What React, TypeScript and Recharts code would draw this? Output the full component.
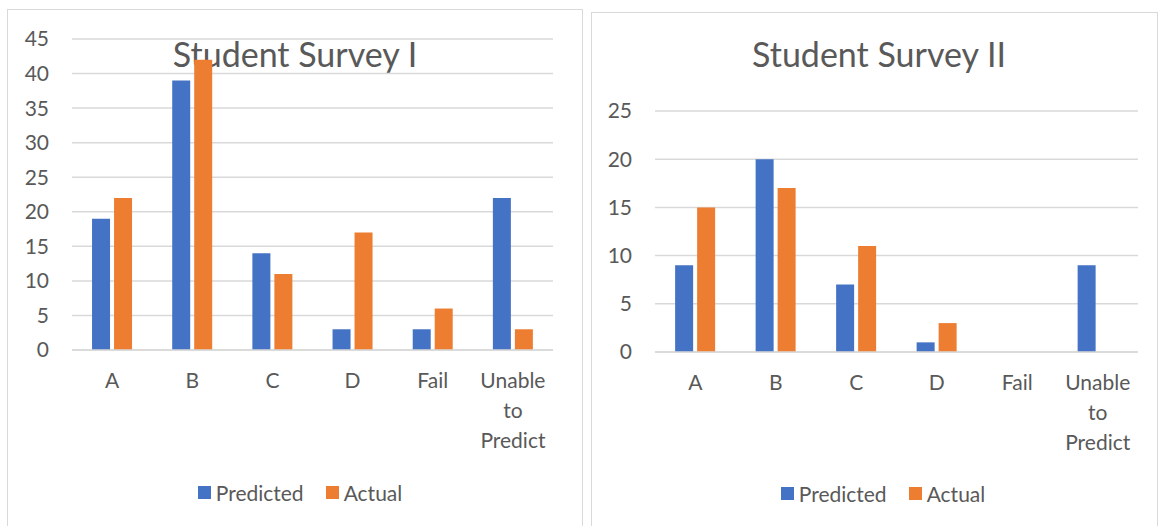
import React from 'react';
import {
    Bar,
    BarChart,
    CartesianGrid,
    Legend,
    XAxis,
    YAxis,
} from 'recharts';

// categories shared by both surveys
const grades = ['A', 'B', 'C', 'D', 'Fail', 'Unable to Predict'];

// Student Survey I
const survey1Predicted = [19, 39, 14, 3, 3, 22];
const survey1Actual = [22, 42, 11, 17, 6, 3];
const survey1Ticks = [0, 5, 10, 15, 20, 25, 30, 35, 40, 45];

// Student Survey II
const survey2Predicted = [9, 20, 7, 1, 0, 9];
const survey2Actual = [15, 17, 11, 3, 0, 0];
const survey2Ticks = [0, 5, 10, 15, 20, 25];

const BLUE = '#4472C4';
const ORANGE = '#ED7D31';
const TEXT = '#595959';
const GRID = '#D9D9D9';
const FONT = 'Lato, "Open Sans", sans-serif';

const buildRows = (predicted: number[], actual: number[]) =>
    grades.map((grade, i) => ({ grade, predicted: predicted[i], actual: actual[i] }));

const CategoryTick = (props: any) => {
    const { x, y, payload } = props;
    const lines = String(payload.value).split(' ');
    return (
        <text x={x} y={y} textAnchor="middle" fill={TEXT} fontSize={21} fontFamily={FONT}>
            {lines.map((line, i) => (
                <tspan key={i} x={x} y={y + 38 + i * 30}>
                    {line}
                </tspan>
            ))}
        </text>
    );
};

const LegendBox = ({ shift }: { shift: number }) => (
    <div
        style={{
            display: 'flex',
            justifyContent: 'center',
            alignItems: 'center',
            height: 40,
            paddingLeft: shift,
            fontFamily: FONT,
            fontSize: 21,
            color: TEXT,
        }}
    >
        <span style={{ width: 13, height: 13, background: BLUE, marginRight: 5 }} />
        <span style={{ marginRight: 22 }}>Predicted</span>
        <span style={{ width: 13, height: 13, background: ORANGE, marginRight: 5 }} />
        <span>Actual</span>
    </div>
);

interface SurveyChartProps {
    title: string;
    data: any[];
    ticks: number[];
    left: number;
    top: number;
    width: number;
    height: number;
    margin: { top: number; right: number; bottom: number; left: number };
    yWidth: number;
    xHeight: number;
    titleTop: number;
    titleCenter: number;
    legendShift: number;
}

function SurveyChart(p: SurveyChartProps) {
    return (
        <>
            <div
                style={{
                    position: 'absolute',
                    left: p.left,
                    top: p.top,
                    width: p.width,
                    height: 560,
                    border: `1px solid ${GRID}`,
                    boxSizing: 'border-box',
                }}
            />
            <div
                style={{
                    position: 'absolute',
                    left: p.titleCenter - 200,
                    width: 400,
                    top: p.titleTop,
                    textAlign: 'center',
                    fontFamily: FONT,
                    fontSize: 34,
                    lineHeight: '34px',
                    color: TEXT,
                    whiteSpace: 'nowrap',
                }}
            >
                {p.title}
            </div>
            <div style={{ position: 'absolute', left: p.left, top: p.top }}>
                <BarChart
                    width={p.width}
                    height={p.height}
                    data={p.data}
                    margin={p.margin}
                    barCategoryGap="25%"
                    barGap={4}
                >
                    <CartesianGrid vertical={false} stroke={GRID} strokeWidth={1.5} />
                    <XAxis
                        dataKey="grade"
                        height={p.xHeight}
                        interval={0}
                        tickLine={false}
                        tickSize={0}
                        tickMargin={0}
                        axisLine={{ stroke: GRID, strokeWidth: 1.5 }}
                        tick={<CategoryTick />}
                    />
                    <YAxis
                        width={p.yWidth}
                        domain={[0, p.ticks[p.ticks.length - 1]]}
                        ticks={p.ticks}
                        interval={0}
                        axisLine={false}
                        tickLine={false}
                        tickSize={0}
                        tickMargin={23}
                        tick={{ fill: TEXT, fontSize: 21, fontFamily: FONT }}
                    />
                    <Legend
                        verticalAlign="bottom"
                        height={40}
                        wrapperStyle={{ left: 0, width: p.width, height: 40 }}
                        content={() => <LegendBox shift={p.legendShift} />}
                    />
                    <Bar dataKey="predicted" name="Predicted" fill={BLUE} isAnimationActive={false} />
                    <Bar dataKey="actual" name="Actual" fill={ORANGE} isAnimationActive={false} />
                </BarChart>
            </div>
        </>
    );
}

export default function App() {
    return (
        <div
            style={{
                position: 'absolute',
                left: 0,
                top: 0,
                width: 1158,
                height: 526,
                overflow: 'hidden',
                background: '#ffffff',
            }}
        >
            <SurveyChart
                title="Student Survey I"
                data={buildRows(survey1Predicted, survey1Actual)}
                ticks={survey1Ticks}
                left={7}
                top={9}
                width={576}
                height={517}
                margin={{ top: 30, right: 30, bottom: 14, left: 0 }}
                yWidth={65}
                xHeight={122}
                titleTop={37}
                titleCenter={295}
                legendShift={10}
            />
            <SurveyChart
                title="Student Survey II"
                data={buildRows(survey2Predicted, survey2Actual)}
                ticks={survey2Ticks}
                left={591}
                top={12}
                width={567}
                height={514}
                margin={{ top: 99, right: 20, bottom: 13, left: 0 }}
                yWidth={64}
                xHeight={121}
                titleTop={37}
                titleCenter={879}
                legendShift={17}
            />
        </div>
    );
}
